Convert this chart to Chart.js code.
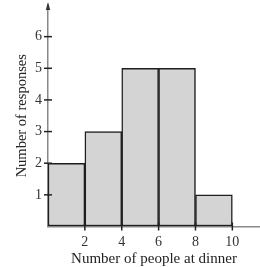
<!DOCTYPE html>
<html><head><meta charset="utf-8">
<script src="https://cdn.jsdelivr.net/npm/chart.js@4/dist/chart.umd.min.js"></script>
<style>html,body{margin:0;padding:0;background:#fff}#wrap{width:260px;height:267px}</style>
</head><body><div id="wrap"><canvas id="c" width="260" height="267"></canvas></div>
<script>
const binCenters = [1, 3, 5, 7, 9];
const responses = [2, 3, 5, 5, 1];
const xTickLabels = [2, 4, 6, 8, 10];
const yTickLabels = [1, 2, 3, 4, 5, 6];

const FONT = "'Liberation Serif', 'Times New Roman', serif";

const axisDeco = {
  id: 'axisDeco',
  afterDraw(chart) {
    const ctx = chart.ctx, xs = chart.scales.x, ys = chart.scales.y;
    const x0 = xs.getPixelForValue(0), y0 = ys.getPixelForValue(0);
    ctx.save();
    ctx.strokeStyle = '#222'; ctx.lineWidth = 1.5;
    yTickLabels.forEach(v => {
      const p = ys.getPixelForValue(v);
      ctx.beginPath(); ctx.moveTo(x0 - 4, p); ctx.lineTo(x0 + 4, p); ctx.stroke();
    });
    xTickLabels.forEach(v => {
      const p = xs.getPixelForValue(v);
      ctx.beginPath(); ctx.moveTo(p, y0 - 4); ctx.lineTo(p, y0 + 4); ctx.stroke();
    });
    const top = chart.chartArea.top;
    ctx.fillStyle = '#333';
    ctx.beginPath(); ctx.moveTo(x0, top - 3); ctx.lineTo(x0 - 2.2, top + 5); ctx.lineTo(x0 + 2.2, top + 5); ctx.closePath(); ctx.fill();
    ctx.restore();
  }
};

new Chart(document.getElementById('c'), {
  type: 'bar',
  data: {
    datasets: [{
      data: binCenters.map((x, i) => ({ x: x, y: responses[i] })),
      backgroundColor: '#d4d4d4',
      borderColor: '#1e1e1e',
      borderWidth: 1.5,
      borderSkipped: false,
      barPercentage: 1,
      categoryPercentage: 1
    }]
  },
  options: {
    responsive: false,
    animation: false,
    events: [],
    layout: { padding: { top: 5, right: 0, left: 0, bottom: 0 } },
    plugins: { legend: { display: false }, tooltip: { enabled: false } },
    scales: {
      x: {
        type: 'linear', min: 0, max: 11.5, offset: false,
        grid: { display: true, drawOnChartArea: false, drawTicks: false, offset: false },
        border: { display: true, color: '#888', width: 1.5 },
        ticks: {
          stepSize: 2, padding: 7, color: '#333', maxRotation: 0, autoSkip: false,
          includeBounds: false,
          font: { family: FONT, size: 14 },
          callback: v => xTickLabels.includes(v) ? String(v) : ''
        },
        title: { display: true, text: 'Number of people at dinner', color: '#222',
          font: { family: FONT, size: 15 }, padding: { top: 0, bottom: -1 } },
        afterFit: s => { s.height = 40.5; s.paddingLeft = 0; s.paddingRight = 0; }
      },
      y: {
        min: 0, max: 7,
        grid: { display: true, drawOnChartArea: false, drawTicks: false },
        border: { display: true, color: '#888', width: 1.5 },
        ticks: {
          stepSize: 1, padding: 6, color: '#333', includeBounds: false,
          font: { family: FONT, size: 14 },
          callback: v => yTickLabels.includes(v) ? String(v) : ''
        },
        title: { display: true, text: 'Number of responses', color: '#222',
          font: { family: FONT, size: 14.5 }, padding: { top: 13, bottom: 0 } },
        afterFit: s => { s.width = 48; s.paddingTop = 0; s.paddingBottom = 0; }
      }
    }
  },
  plugins: [axisDeco]
});
</script></body></html>
